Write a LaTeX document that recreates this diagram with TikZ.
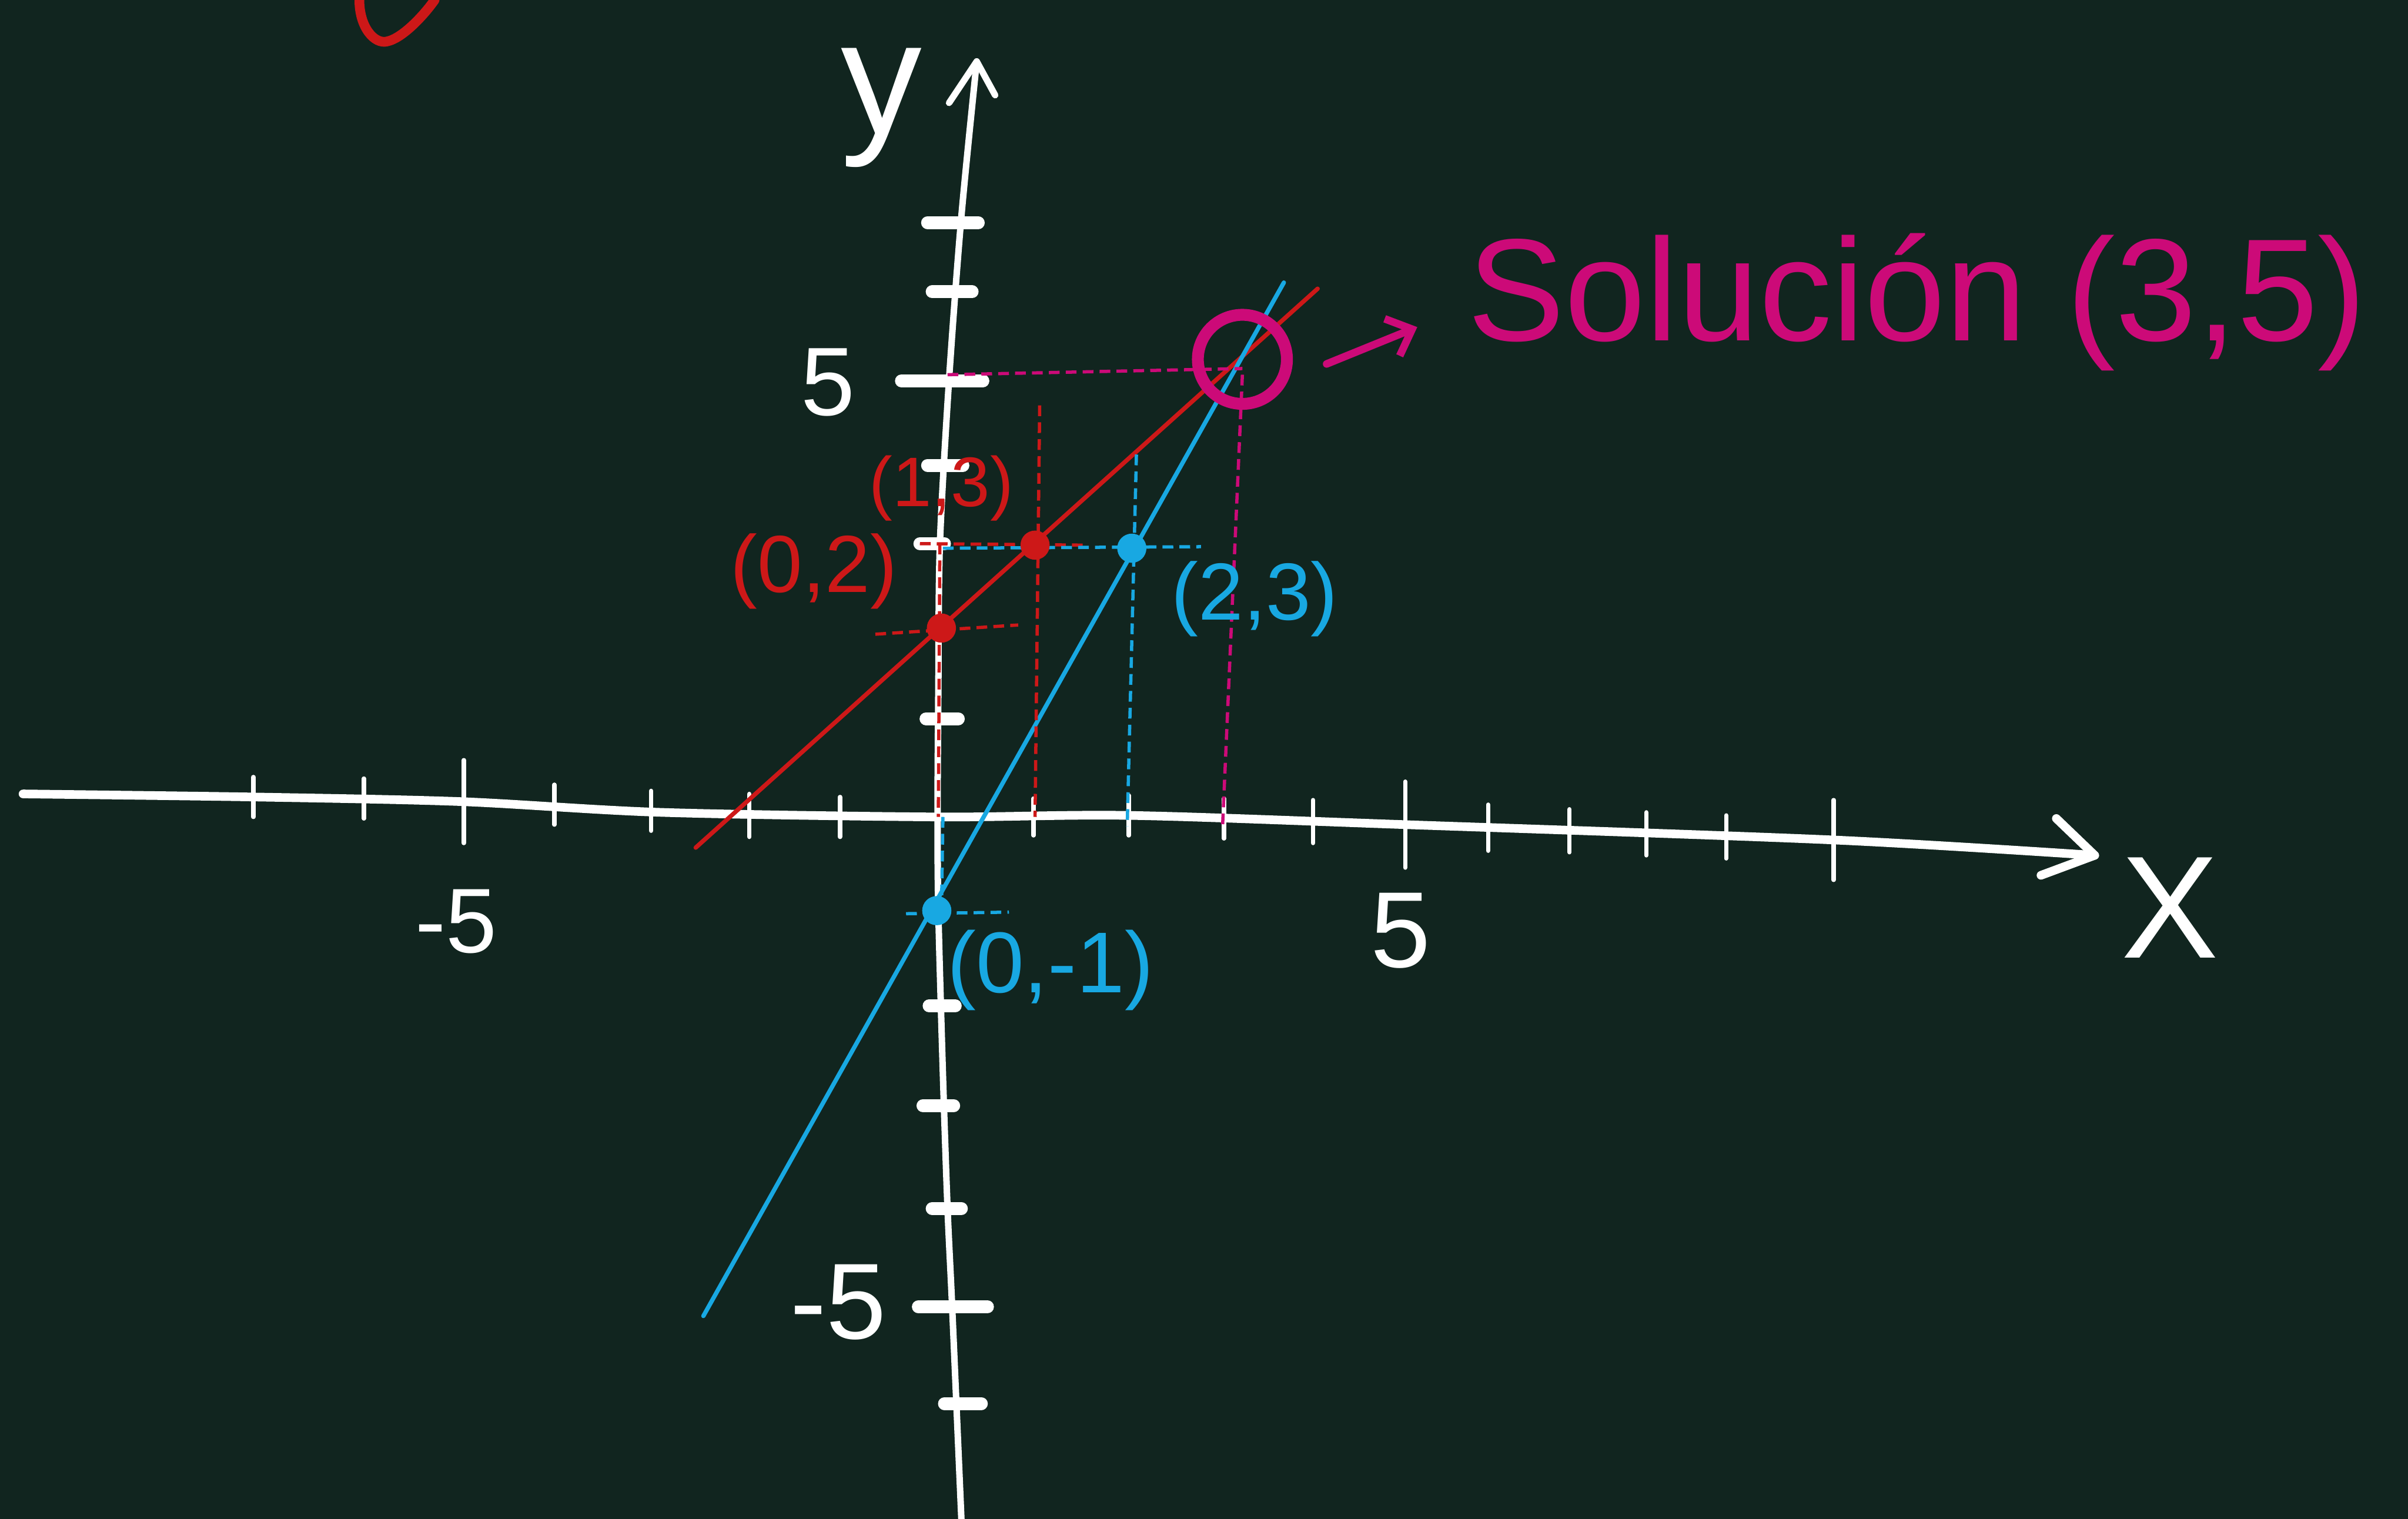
\documentclass[tikz,border=0pt]{standalone}
\usepackage{fontspec}
\setmainfont{Liberation Sans}
\usepackage{tikz}
\usetikzlibrary{arrows.meta,calc,positioning}
\definecolor{pizarra}{RGB}{17,37,31}
\definecolor{rojo}{RGB}{205,24,24}
\definecolor{celeste}{RGB}{24,168,226}
\definecolor{fucsia}{RGB}{204,10,120}
\newcommand{\tam}[1]{\fontsize{#1}{#1}\selectfont}
\tikzset{
  eje/.style={white,line width=1.6pt,line cap=round,line join=round},
  marcax/.style={white,line width=0.8pt,line cap=round},
  marcay/.style={white,line width=2.4pt,line cap=round},
  recta/.style={line width=0.8pt,line cap=round},
  guia/.style={line width=0.6pt,dash pattern=on 0.7mm off 0.4mm},
  pt/.style={circle,fill,inner sep=0pt,minimum size=1.9mm},
  etq/.style={inner sep=0pt}
}
\begin{document}
\begin{tikzpicture}[x=0.1mm,y=-0.1mm]
\fill[pizarra] (0,0) rectangle (1568,989);
\useasboundingbox (0,0) rectangle (1568,989);
% trazo rojo cortado arriba
\draw[rojo,line width=1.8pt,line cap=round] (234,0) .. controls (234,18) and (244,29) .. (252,27)
  .. controls (262,25) and (276,10) .. (283,0);
% eje x
\draw[eje] plot[smooth] coordinates {(15,517) (165,519) (300,522) (430,529) (610,532) (735,531) (915,537) (1194,547) (1364,557)};
\coordinate (xtip) at (1364,557);
\draw[eje] (1339,533) -- (xtip) -- (1329,570);
\foreach \xa/\ya/\l in {165/519/13, 237/520/13, 302/522/27, 361/524/13, 424/528/13, 488/531/14, 547/532/13,
  673/532/12, 735/531/13, 797/533/13, 855/535/14, 915/537/28, 969/539/15, 1022/541/14, 1072/543/14, 1124/545/14, 1194/547/26}{
  \draw[marcax] (\xa,\ya-\l) -- (\xa,\ya+\l);}
% eje y
\draw[eje,line width=1.2pt] plot[smooth] coordinates {(626,989) (620,851) (617,787) (614,700) (611,593) (610.5,530) (611,450) (612,355) (618,247) (626,141) (636,40)};
\coordinate (ytip) at (636,40);
\draw[eje,line width=1.2pt] (618,67) -- (ytip) -- (648,62);
\foreach \ya/\xl/\xr in {145/604/637, 190/607/633, 248/587/640, 303/604/627, 354/599/615, 468/603/624,
  655/605/622, 720/601/621, 787/607/626, 851/598/643, 914/615/639}{
  \draw[marcay] (\xl,\ya) -- (\xr,\ya);}
% rectas
\draw[rojo,recta] (453,552) -- (858,188);
\draw[celeste,recta] (458,857) -- (836,184);
% guias
\draw[rojo,guia] (570,413) -- (663,407);
\draw[rojo,guia] (599,354) -- (706,355);
\draw[rojo,guia] (612,354) -- (611,532);
\draw[rojo,guia] (677,264) -- (674,532);
\draw[celeste,guia] (614,357) -- (782,356);
\draw[celeste,guia] (740,296) -- (734,538);
\draw[celeste,guia] (590,595) -- (657,594);
\draw[celeste,guia] (614,532) -- (613,595);
\draw[fucsia,guia] (617,244) -- (809,240);
\draw[fucsia,guia] (809,244) -- (796,540);
% puntos
\node[pt,rojo] (p02) at (613,409) {};
\node[pt,rojo] (p13) at (674,355) {};
\node[pt,celeste] (p23) at (737,357) {};
\node[pt,celeste] (p0m1) at (610,593) {};
\node[draw=fucsia,circle,line width=2.2pt,minimum size=5.8mm,inner sep=0pt] (sol) at (809,234) {};
% textos
\node[etq,fucsia,anchor=base west,font=\tam{27}] (solt) at (955,222) {Solución (3,5)};
\draw[fucsia,line width=1.4pt,line cap=round,-{Straight Barb[length=1.4mm,width=2.6mm]}] (sol.east) ++(2.2mm,-0.3mm) -- ++(5.9mm,2.4mm);
\node[etq,white,font=\tam{30}] (ylab) at (574,70) {y};
\node[etq,white,font=\tam{27}] (xlab) at (1413,591) {X};
\node[etq,white,font=\tam{18}] (y5) at (539,249) {5};
\node[etq,white,font=\tam{20}] (ym5) at (546,848) {-5};
\node[etq,white,font=\tam{17}] (xm5) at (297,600) {-5};
\node[etq,white,font=\tam{20}] (x5) at (912,606) {5};
\node[etq,rojo,font=\tam{13}] (l13) at (613,318) {(1,3)};
\node[etq,rojo,font=\tam{15}] (l02) at (530,372) {(0,2)};
\node[etq,celeste,font=\tam{15}] (l23) at (817,390) {(2,3)};
\node[etq,celeste,font=\tam{16}] (l0m1) at (684,632) {(0,-1)};
\end{tikzpicture}
\end{document}
